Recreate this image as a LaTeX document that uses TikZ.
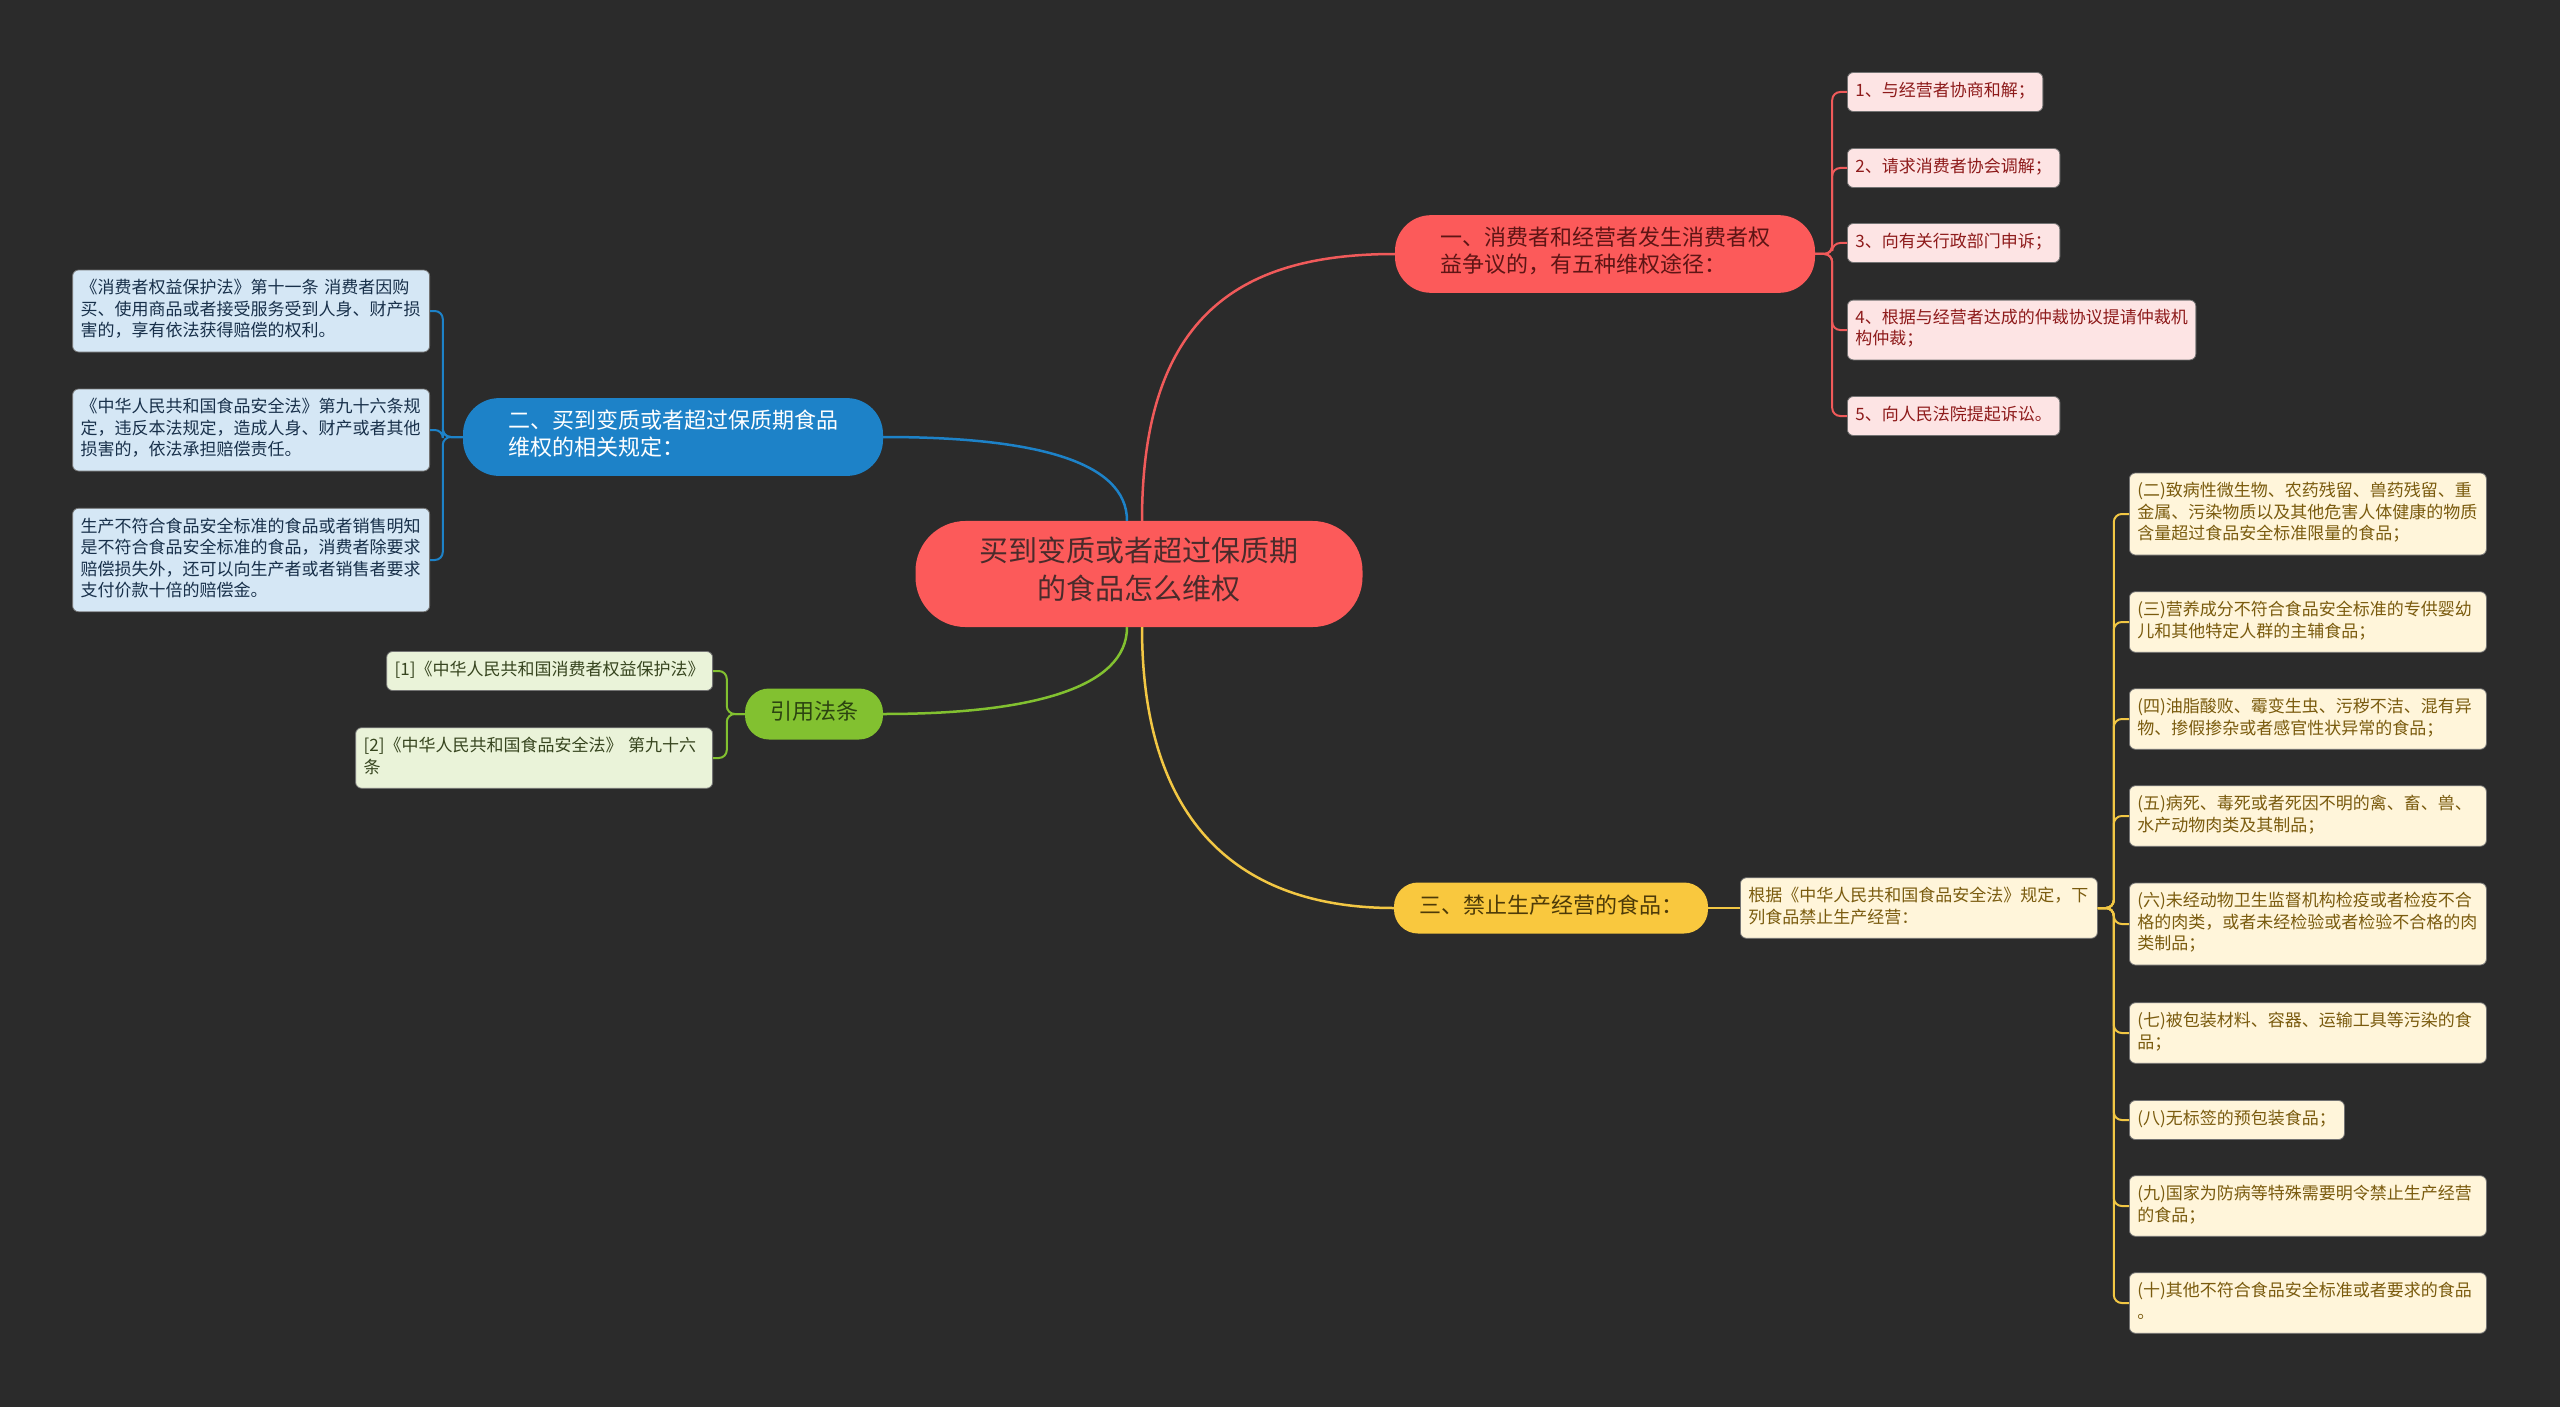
\documentclass[tikz,border=0pt]{standalone}
\usepackage{fontspec}
\usepackage{xcolor}
\usetikzlibrary{positioning,calc}
\newfontfamily\cjk{Noto Sans CJK SC}

\definecolor{bgcol}{HTML}{2B2B2B}
\definecolor{cRoot}{HTML}{FC5A5A}
\definecolor{cRootText}{HTML}{4A2B2B}
\definecolor{cRedText}{HTML}{5E1515}
\definecolor{cRedLeaf}{HTML}{FDE4E4}
\definecolor{cRedLeafText}{HTML}{8E1B1B}
\definecolor{cRedLine}{HTML}{F05A5A}
\definecolor{cBlue}{HTML}{1D82C8}
\definecolor{cBlueLeaf}{HTML}{D5E7F5}
\definecolor{cBlueLeafText}{HTML}{18304A}
\definecolor{cGreen}{HTML}{82C130}
\definecolor{cGreenText}{HTML}{2C4410}
\definecolor{cGreenLeaf}{HTML}{EAF3D9}
\definecolor{cGreenLeafText}{HTML}{37451F}
\definecolor{cYel}{HTML}{F9C83E}
\definecolor{cYelText}{HTML}{4D3A08}
\definecolor{cYelLeaf}{HTML}{FFF5DA}
\definecolor{cYelLeafText}{HTML}{7A5B0E}
\definecolor{cYelLine}{HTML}{F2C744}

\tikzset{
    rootbox/.style={rectangle,fill=cRoot,text=cRootText,rounded corners=50pt,align=center,
        font=\cjk\fontsize{29}{38}\selectfont,inner xsep=64pt,inner ysep=16pt,
        execute at begin node=\strut,execute at end node=\strut},
    topic/.style={rectangle,rounded corners=#1,align=left,
        font=\cjk\fontsize{22}{27}\selectfont,inner xsep=25pt,inner ysep=12pt,
        execute at begin node=\strut,execute at end node=\strut},
    leaf/.style={rectangle,rounded corners=6pt,align=left,draw=black!55,line width=0.8pt,
        font=\cjk\fontsize{17}{21.5}\selectfont,inner xsep=8pt,inner ysep=8.75pt,
        execute at begin node=\strut,execute at end node=\strut},
    mainlink/.style={line width=2.5pt},
    sublink/.style={line width=2pt,rounded corners=8pt}
}

\begin{document}
\begin{tikzpicture}[x=1pt,y=-1pt]
    \useasboundingbox (0,0) rectangle (2560,1407);
    \fill[bgcol] (0,0) rectangle (2560,1407);

    % Root
    \node[rootbox] (root) at (1139,574) {买到变质或者超过保质期\\的食品怎么维权};

    % Branch one (red)
    \node[topic=36pt,fill=cRoot,text=cRedText,minimum width=420pt] (c1) at (1605,254)
        {一、消费者和经营者发生消费者权\\益争议的，有五种维权途径：};
    \draw[mainlink,cRedLine] ([xshift=3pt]root.north) .. controls +(0,-210) and +(-150,0) .. (c1.west);
    \foreach \n/\y/\txt in {1/92/{1、与经营者协商和解；},
                            2/168/{2、请求消费者协会调解；},
                            3/243/{3、向有关行政部门申诉；},
                            4/330/{4、根据与经营者达成的仲裁协议提请仲裁机\\构仲裁；},
                            5/416/{5、向人民法院提起诉讼。}} {
        \node[leaf,fill=cRedLeaf,text=cRedLeafText,anchor=west] (r\n) at (1847,\y) {\txt};
        \draw[sublink,cRedLine] (c1.east) -- ++(17,0) |- (r\n.west);
    }

    % Branch two (blue)
    \node[topic=36pt,fill=cBlue,text=white,minimum width=420pt] (c2) at (673,437)
        {二、买到变质或者超过保质期食品\\维权的相关规定：};
    \draw[mainlink,cBlue] (c2.east) .. controls +(150,0) and +(0,-60) .. ([xshift=-12pt]root.north);
    \foreach \n/\y/\txt in {1/311/{《消费者权益保护法》第十一条 消费者因购\\买、使用商品或者接受服务受到人身、财产损\\害的，享有依法获得赔偿的权利。},
                            2/430/{《中华人民共和国食品安全法》第九十六条规\\定，违反本法规定，造成人身、财产或者其他\\损害的，依法承担赔偿责任。},
                            3/560/{生产不符合食品安全标准的食品或者销售明知\\是不符合食品安全标准的食品，消费者除要求\\赔偿损失外，还可以向生产者或者销售者要求\\支付价款十倍的赔偿金。}} {
        \node[leaf,fill=cBlueLeaf,text=cBlueLeafText,text width=341pt,anchor=east] (b\n) at (430,\y) {\txt};
        \draw[sublink,cBlue] (c2.west) -- ++(-20,0) |- (b\n.east);
    }

    % Branch three (green)
    \node[topic=24pt,fill=cGreen,text=cGreenText] (c3) at (814,714) {引用法条};
    \draw[mainlink,cGreen] (c3.east) .. controls +(150,0) and +(0,60) .. ([xshift=-12pt]root.south);
    \node[leaf,fill=cGreenLeaf,text=cGreenLeafText,anchor=east] (g1) at (713,671)
        {[1]《中华人民共和国消费者权益保护法》};
    \node[leaf,fill=cGreenLeaf,text=cGreenLeafText,text width=341pt,anchor=east] (g2) at (713,758)
        {[2]《中华人民共和国食品安全法》 第九十六\\条};
    \foreach \n in {1,2} {
        \draw[sublink,cGreen] (c3.west) -- ++(-18,0) |- (g\n.east);
    }

    % Branch four (yellow)
    \node[topic=24pt,fill=cYel,text=cYelText] (c4) at (1551,908) {三、禁止生产经营的食品：};
    \draw[mainlink,cYelLine] ([xshift=3pt]root.south) .. controls +(0,220) and +(-130,0) .. (c4.west);
    \node[leaf,fill=cYelLeaf,text=cYelLeafText,text width=341pt,anchor=west] (y0) at (1740,908)
        {根据《中华人民共和国食品安全法》规定，下\\列食品禁止生产经营：};
    \draw[sublink,cYelLine] (c4.east) -- (y0.west);
    \foreach \n/\y/\w/\txt in {2/514/341/{(二)致病性微生物、农药残留、兽药残留、重\\金属、污染物质以及其他危害人体健康的物质\\含量超过食品安全标准限量的食品；},
                               3/622/341/{(三)营养成分不符合食品安全标准的专供婴幼\\儿和其他特定人群的主辅食品；},
                               4/719/341/{(四)油脂酸败、霉变生虫、污秽不洁、混有异\\物、掺假掺杂或者感官性状异常的食品；},
                               5/816/341/{(五)病死、毒死或者死因不明的禽、畜、兽、\\水产动物肉类及其制品；},
                               6/924/341/{(六)未经动物卫生监督机构检疫或者检疫不合\\格的肉类，或者未经检验或者检验不合格的肉\\类制品；},
                               7/1033/341/{(七)被包装材料、容器、运输工具等污染的食\\品；},
                               8/1120/199/{(八)无标签的预包装食品；},
                               9/1206/341/{(九)国家为防病等特殊需要明令禁止生产经营\\的食品；},
                               10/1303/341/{(十)其他不符合食品安全标准或者要求的食品\\。}} {
        \node[leaf,fill=cYelLeaf,text=cYelLeafText,text width=\w pt,anchor=west] (y\n) at (2129,\y) {\txt};
        \draw[sublink,cYelLine] (y0.east) -- ++(16,0) |- (y\n.west);
    }
\end{tikzpicture}
\end{document}
